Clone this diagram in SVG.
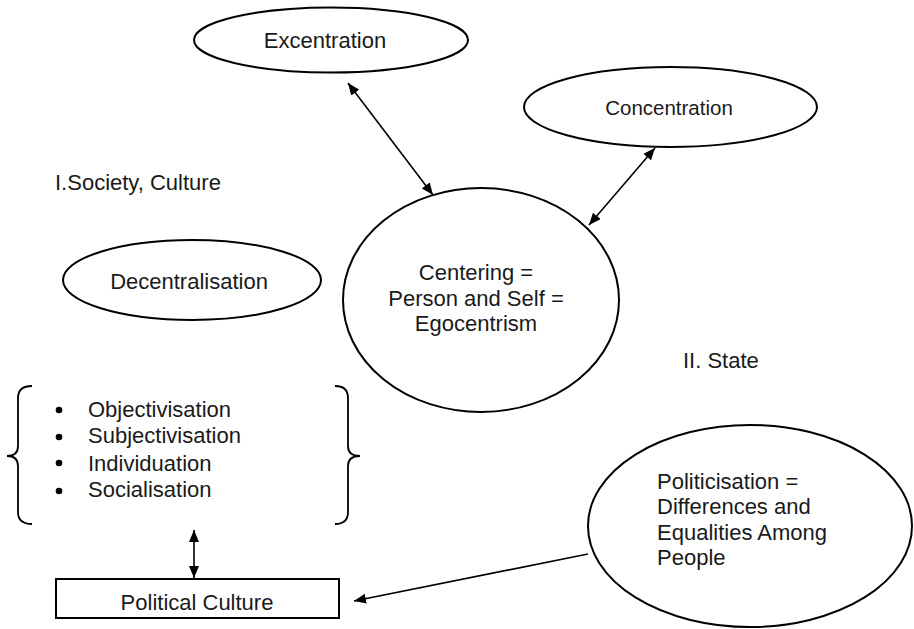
<svg xmlns="http://www.w3.org/2000/svg" width="914" height="629" viewBox="0 0 914 629">
<style>
text{font-family:"Liberation Sans",Arial,sans-serif;font-size:22px;fill:#1a1a1a}
.c{text-anchor:middle}
.shape{fill:#fff;stroke:#000;stroke-width:2}
.brace{fill:none;stroke:#000;stroke-width:1.8}
.link{stroke:#000;stroke-width:1.6;fill:none}
</style>
<defs>
<marker id="ah" viewBox="0 0 12 10" refX="12" refY="5" markerWidth="12" markerHeight="10" markerUnits="userSpaceOnUse" orient="auto-start-reverse">
<path d="M0,0 L12,5 L0,10 z" fill="#000"/>
</marker>
</defs>
<rect width="914" height="629" fill="#fff"/>
<g id="labels">
<text x="55" y="190">I.Society, Culture</text>
<text x="683" y="368">II. State</text>
</g>
<g id="excentration">
<ellipse class="shape" cx="331" cy="40" rx="137" ry="32.5"/>
<text class="c" x="325" y="48">Excentration</text>
</g>
<g id="concentration">
<ellipse class="shape" cx="670.5" cy="107" rx="146.5" ry="40"/>
<text class="c" x="669" y="115" style="font-size:20.5px">Concentration</text>
</g>
<g id="decentralisation">
<ellipse class="shape" cx="192" cy="280" rx="129" ry="40"/>
<text class="c" x="189" y="289">Decentralisation</text>
</g>
<g id="centering">
<ellipse class="shape" cx="481" cy="300" rx="138" ry="112"/>
<text class="c" x="476" y="280">Centering =</text>
<text class="c" x="476" y="306">Person and Self =</text>
<text class="c" x="476" y="331">Egocentrism</text>
</g>
<g id="processes">
<path class="brace" d="M32,386 Q18,386 18,398 L18,446 Q18,456 7,456 Q18,456 18,466 L18,512 Q18,524 32,524"/>
<path class="brace" d="M335,386 Q348,386 348,398 L348,446 Q348,456 360,456 Q348,456 348,466 L348,512 Q348,524 335,524"/>
<circle cx="59" cy="410" r="3.3" fill="#000"/>
<circle cx="59" cy="437" r="3.3" fill="#000"/>
<circle cx="59" cy="463" r="3.3" fill="#000"/>
<circle cx="59" cy="491" r="3.3" fill="#000"/>
<text x="88" y="417">Objectivisation</text>
<text x="88" y="443">Subjectivisation</text>
<text x="88" y="471">Individuation</text>
<text x="88" y="497">Socialisation</text>
</g>
<g id="political-culture">
<rect class="shape" x="56" y="579" width="283" height="39"/>
<text class="c" x="197" y="610">Political Culture</text>
</g>
<g id="politicisation">
<ellipse class="shape" cx="750" cy="526" rx="162" ry="101"/>
<text x="657" y="489">Politicisation =</text>
<text x="657" y="514">Differences and</text>
<text x="657" y="540">Equalities Among</text>
<text x="657" y="565">People</text>
</g>
<g id="connectors">
<line class="link" x1="348" y1="83" x2="433" y2="195" marker-start="url(#ah)" marker-end="url(#ah)"/>
<line class="link" x1="655" y1="148" x2="589" y2="225" marker-start="url(#ah)" marker-end="url(#ah)"/>
<line class="link" x1="194" y1="530" x2="194" y2="578" marker-start="url(#ah)" marker-end="url(#ah)"/>
<line class="link" x1="588" y1="554" x2="354" y2="601" marker-end="url(#ah)"/>
</g>
</svg>
